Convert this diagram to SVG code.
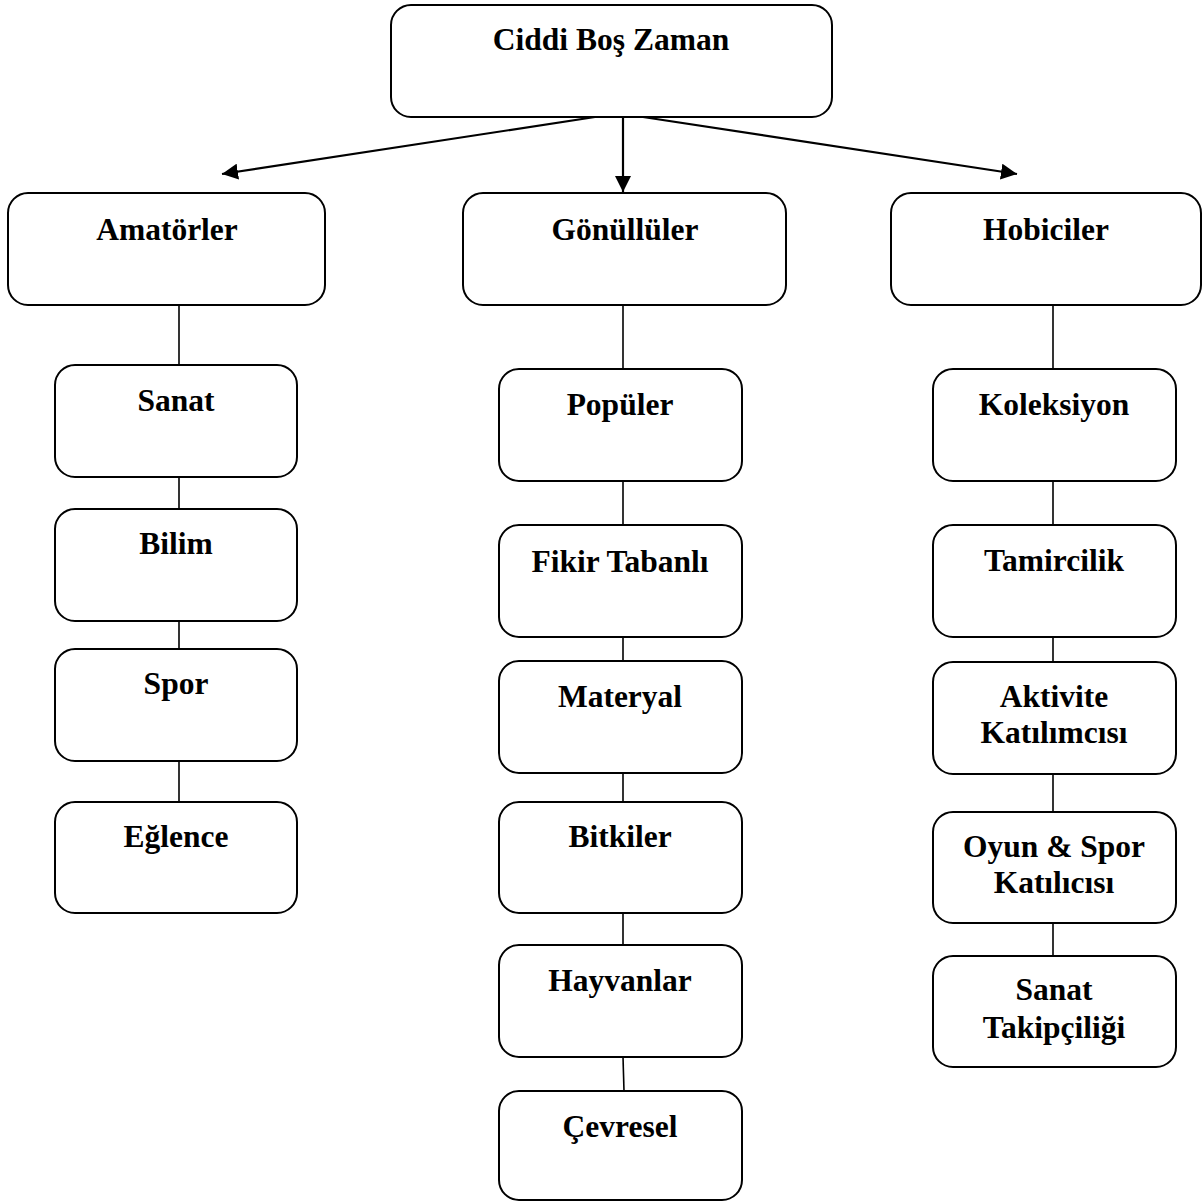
<svg xmlns="http://www.w3.org/2000/svg" width="1203" height="1202" viewBox="0 0 1203 1202">
<style>
.box{fill:#fff;stroke:#000;stroke-width:2}
.t{font-family:"Liberation Serif","Times New Roman",serif;font-weight:bold;font-size:31.5px;text-anchor:middle;fill:#000}
.c{stroke:#000;stroke-width:1.6;fill:none}
.a{stroke:#000;stroke-width:2.2;fill:none;marker-end:url(#ah)}
</style>
<defs>
<marker id="ah" markerUnits="userSpaceOnUse" markerWidth="18" markerHeight="16" refX="16" refY="8" orient="auto">
<path d="M0,0 L16,8 L0,16 Z" fill="#000"/>
</marker>
</defs>
<rect width="1203" height="1202" fill="#fff"/>
<g id="connectors">
<line class="a" x1="595" y1="117" x2="222" y2="174"/>
<line class="a" x1="623" y1="117" x2="623" y2="192"/>
<line class="a" x1="643" y1="117" x2="1017" y2="174"/>
<line class="c" x1="179" y1="306" x2="179" y2="365"/>
<line class="c" x1="179" y1="477" x2="179" y2="509"/>
<line class="c" x1="179" y1="621" x2="179" y2="649"/>
<line class="c" x1="179" y1="761" x2="179" y2="802"/>
<line class="c" x1="623" y1="306" x2="623" y2="369"/>
<line class="c" x1="623" y1="481" x2="623" y2="525"/>
<line class="c" x1="623" y1="637" x2="623" y2="661"/>
<line class="c" x1="623" y1="773" x2="623" y2="802"/>
<line class="c" x1="623" y1="913" x2="623" y2="945"/>
<line class="c" x1="623" y1="1057" x2="624" y2="1091"/>
<line class="c" x1="1053" y1="306" x2="1053" y2="369"/>
<line class="c" x1="1053" y1="481" x2="1053" y2="525"/>
<line class="c" x1="1053" y1="637" x2="1053" y2="662"/>
<line class="c" x1="1053" y1="774" x2="1053" y2="812"/>
<line class="c" x1="1053" y1="923" x2="1053" y2="956"/>
</g>
<g id="n-ciddi"><rect class="box" x="391" y="5" width="441" height="112" rx="20"/><text class="t" x="611" y="50">Ciddi Boş Zaman</text></g>
<g id="n-amatorler"><rect class="box" x="8" y="193" width="317" height="112" rx="20"/><text class="t" x="167" y="240">Amatörler</text></g>
<g id="n-gonulluler"><rect class="box" x="463" y="193" width="323" height="112" rx="20"/><text class="t" x="625" y="240">Gönüllüler</text></g>
<g id="n-hobiciler"><rect class="box" x="891" y="193" width="310" height="112" rx="20"/><text class="t" x="1046" y="240">Hobiciler</text></g>
<g id="n-sanat"><rect class="box" x="55" y="365" width="242" height="112" rx="20"/><text class="t" x="176" y="411">Sanat</text></g>
<g id="n-bilim"><rect class="box" x="55" y="509" width="242" height="112" rx="20"/><text class="t" x="176" y="554">Bilim</text></g>
<g id="n-spor"><rect class="box" x="55" y="649" width="242" height="112" rx="20"/><text class="t" x="176" y="694">Spor</text></g>
<g id="n-eglence"><rect class="box" x="55" y="802" width="242" height="111" rx="20"/><text class="t" x="176" y="847">Eğlence</text></g>
<g id="n-populer"><rect class="box" x="499" y="369" width="243" height="112" rx="20"/><text class="t" x="620" y="415">Popüler</text></g>
<g id="n-fikir"><rect class="box" x="499" y="525" width="243" height="112" rx="20"/><text class="t" x="620" y="572">Fikir Tabanlı</text></g>
<g id="n-materyal"><rect class="box" x="499" y="661" width="243" height="112" rx="20"/><text class="t" x="620" y="707">Materyal</text></g>
<g id="n-bitkiler"><rect class="box" x="499" y="802" width="243" height="111" rx="20"/><text class="t" x="620" y="847">Bitkiler</text></g>
<g id="n-hayvanlar"><rect class="box" x="499" y="945" width="243" height="112" rx="20"/><text class="t" x="620" y="991">Hayvanlar</text></g>
<g id="n-cevresel"><rect class="box" x="499" y="1091" width="243" height="109" rx="20"/><text class="t" x="620" y="1137">Çevresel</text></g>
<g id="n-koleksiyon"><rect class="box" x="933" y="369" width="243" height="112" rx="20"/><text class="t" x="1054" y="415">Koleksiyon</text></g>
<g id="n-tamircilik"><rect class="box" x="933" y="525" width="243" height="112" rx="20"/><text class="t" x="1054" y="571">Tamircilik</text></g>
<g id="n-aktivite"><rect class="box" x="933" y="662" width="243" height="112" rx="20"/><text class="t" x="1054" y="707">Aktivite</text><text class="t" x="1054" y="743">Katılımcısı</text></g>
<g id="n-oyun"><rect class="box" x="933" y="812" width="243" height="111" rx="20"/><text class="t" x="1054" y="857">Oyun &amp; Spor</text><text class="t" x="1054" y="893">Katılıcısı</text></g>
<g id="n-takip"><rect class="box" x="933" y="956" width="243" height="111" rx="20"/><text class="t" x="1054" y="1000">Sanat</text><text class="t" x="1054" y="1038">Takipçiliği</text></g>
</svg>
